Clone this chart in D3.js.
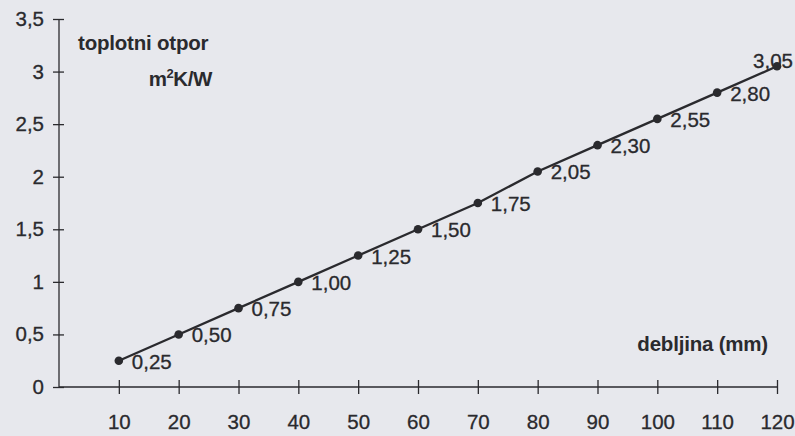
<!DOCTYPE html>
<html lang="hr">
<head>
<meta charset="UTF-8">
<title>Toplotni otpor</title>
<script src="https://cdn.jsdelivr.net/npm/d3@7/dist/d3.min.js"></script>
<style>
  html, body { margin: 0; padding: 0; background: #e7e8ed; }
  svg { display: block; font-family: "Liberation Sans", Arial, sans-serif; }
</style>
</head>
<body>
<svg id="chart" width="795" height="436"></svg>
<script>
// debljina (mm) i toplotni otpor (m2K/W)
var thickness = [10, 20, 30, 40, 50, 60, 70, 80, 90, 100, 110, 120];
var resistance = [0.25, 0.50, 0.75, 1.00, 1.25, 1.50, 1.75, 2.05, 2.30, 2.55, 2.80, 3.05];
var pointLabels = ["0,25", "0,50", "0,75", "1,00", "1,25", "1,50", "1,75", "2,05", "2,30", "2,55", "2,80", "3,05"];
var yTicks = [0, 0.5, 1, 1.5, 2, 2.5, 3, 3.5];
var yTickLabels = ["0", "0,5", "1", "1,5", "2", "2,5", "3", "3,5"];
var xTicks = [0, 10, 20, 30, 40, 50, 60, 70, 80, 90, 100, 110, 120];

var svg = d3.select("#chart");
var ink = "#2a2a2e";
var fs = 20.5;

var x = d3.scaleLinear().domain([0, 120]).range([59, 777]);
var y = d3.scaleLinear().domain([0, 3.5]).range([387, 19]);

// y axis
var yAxis = d3.axisLeft(y)
  .tickValues(yTicks)
  .tickSize(6)
  .tickPadding(9)
  .tickFormat(function(d, i) { return yTickLabels[i]; });

var gy = svg.append("g")
  .attr("transform", "translate(" + x(0) + ",0)")
  .call(yAxis);
gy.select(".domain").attr("stroke", ink).attr("stroke-width", 1.3).attr("d", "M0," + y(3.5) + "V" + y(0));
gy.selectAll(".tick line").attr("stroke", ink).attr("stroke-width", 1.3).attr("x1", 5).attr("x2", -6);
gy.selectAll(".tick text").attr("fill", ink).attr("stroke", ink).attr("stroke-width", 0.3)
  .attr("font-size", fs).attr("font-family", "Liberation Sans, Arial, sans-serif");

// x axis
var xAxis = d3.axisBottom(x)
  .tickValues(xTicks)
  .tickSize(7)
  .tickPadding(20)
  .tickFormat(function(d) { return d === 0 ? "" : d; });

var gx = svg.append("g")
  .attr("transform", "translate(0," + y(0) + ")")
  .call(xAxis);
gx.select(".domain").attr("stroke", ink).attr("stroke-width", 1.3).attr("d", "M" + x(0) + ",0H" + x(120));
gx.selectAll(".tick line").attr("stroke", ink).attr("stroke-width", 1.3).attr("y1", -7).attr("y2", 7)
  .filter(function(d) { return d === 0; }).remove();
gx.selectAll(".tick text").attr("fill", ink).attr("stroke", ink).attr("stroke-width", 0.3)
  .attr("font-size", fs).attr("font-family", "Liberation Sans, Arial, sans-serif");

// line
var data = thickness.map(function(t, i) { return { t: t, r: resistance[i], label: pointLabels[i] }; });

svg.append("path")
  .datum(data)
  .attr("fill", "none")
  .attr("stroke", ink)
  .attr("stroke-width", 2.3)
  .attr("d", d3.line().x(function(d) { return x(d.t); }).y(function(d) { return y(d.r); }));

svg.selectAll("circle.pt")
  .data(data)
  .enter().append("circle")
  .attr("class", "pt")
  .attr("cx", function(d) { return x(d.t); })
  .attr("cy", function(d) { return y(d.r); })
  .attr("r", 4.3)
  .attr("fill", ink);

svg.selectAll("text.val")
  .data(data)
  .enter().append("text")
  .attr("class", "val")
  .attr("x", function(d, i) { return i === data.length - 1 ? x(d.t) - 4 : x(d.t) + 13; })
  .attr("y", function(d, i) { return i === data.length - 1 ? y(d.r) + 2 : y(d.r) + 8; })
  .attr("text-anchor", function(d, i) { return i === data.length - 1 ? "middle" : "start"; })
  .attr("fill", ink).attr("stroke", ink).attr("stroke-width", 0.3)
  .attr("font-size", fs)
  .text(function(d) { return d.label; });

// axis titles
svg.append("text")
  .attr("x", 78).attr("y", 50)
  .attr("fill", ink).attr("font-size", 20.5).attr("font-weight", "bold")
  .attr("letter-spacing", -0.2)
  .text("toplotni otpor");

var unit = svg.append("text")
  .attr("x", 212).attr("y", 86)
  .attr("text-anchor", "end")
  .attr("fill", ink).attr("font-size", 20.5).attr("font-weight", "bold")
  .attr("letter-spacing", -0.4);
unit.append("tspan").text("m");
unit.append("tspan").attr("font-size", 13).attr("dy", -8).text("2");
unit.append("tspan").attr("dy", 8).text("K/W");

svg.append("text")
  .attr("x", 768).attr("y", 351)
  .attr("text-anchor", "end")
  .attr("fill", ink).attr("font-size", 20.5).attr("font-weight", "bold")
  .attr("letter-spacing", -0.2)
  .text("debljina (mm)");
</script>
</body>
</html>
